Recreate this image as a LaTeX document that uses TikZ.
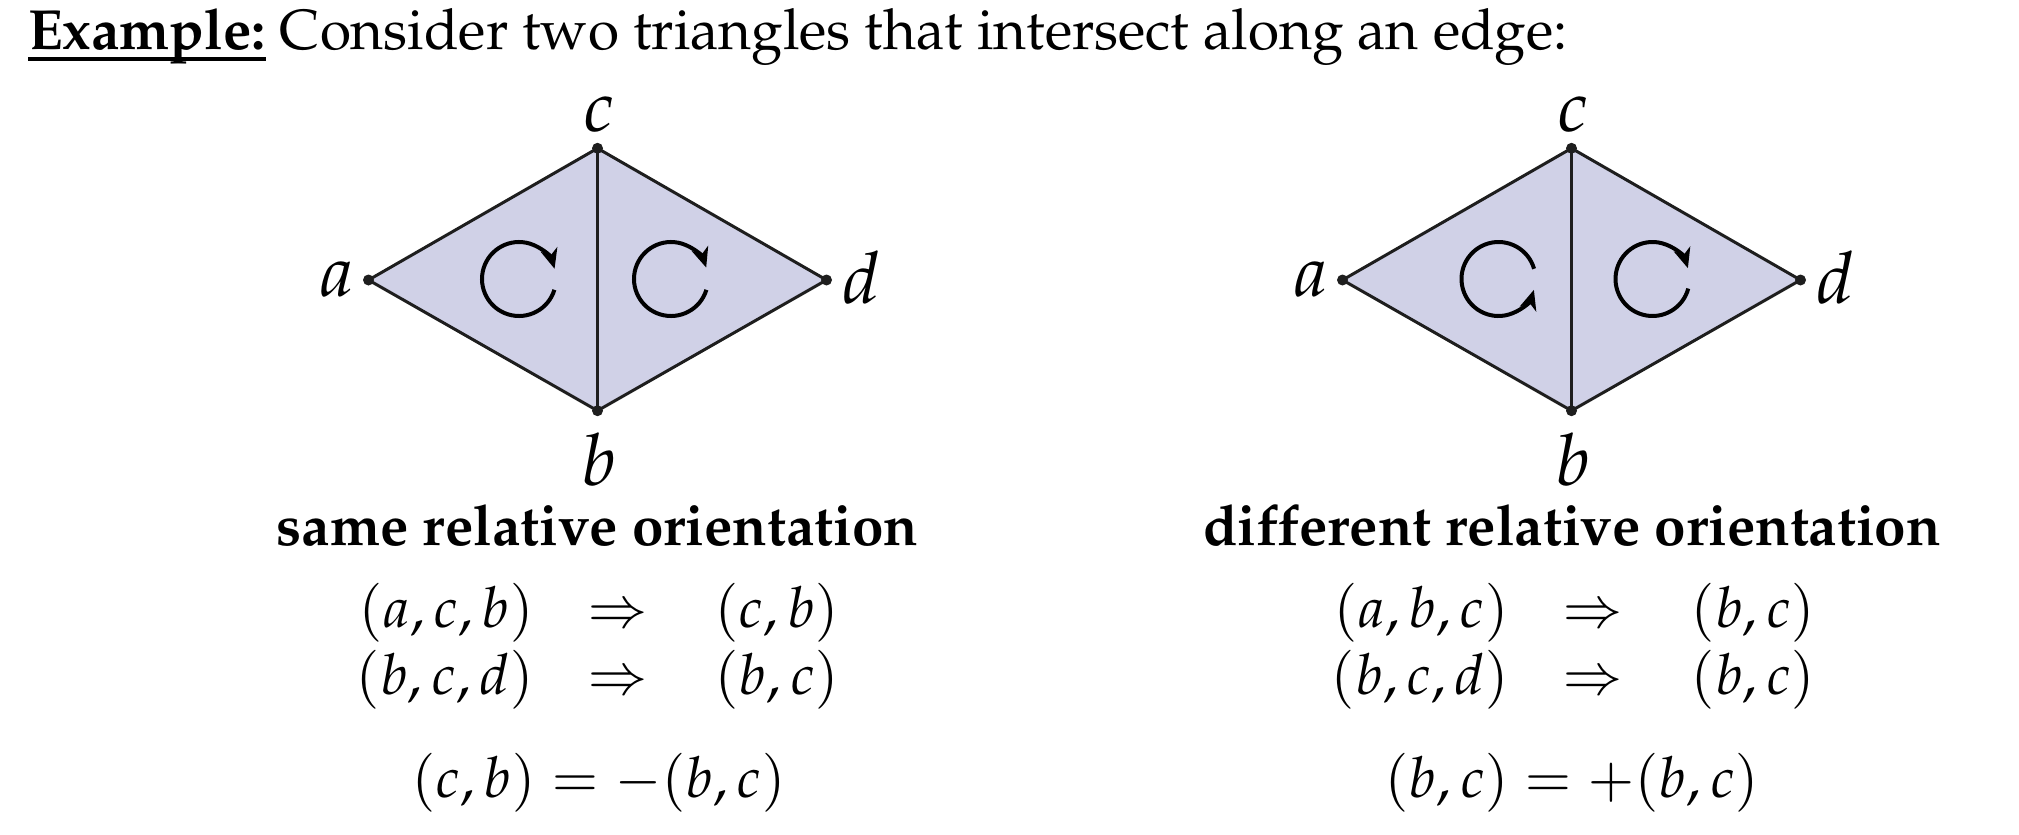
\documentclass[tikz,border=0pt]{standalone}
\usepackage[T1]{fontenc}
\usepackage{mathpazo}
\usetikzlibrary{arrows.meta,backgrounds}
\definecolor{tri}{RGB}{208,209,231}
\definecolor{ink}{RGB}{30,30,30}
\newcommand\thickul[1]{\setbox0\hbox{#1}\rlap{\rule[-0.22em]{\wd0}{0.075em}}\box0}
\begin{document}
\begin{tikzpicture}[x=0.5pt,y=-0.5pt,
  vtx/.style={circle,fill=ink,inner sep=0pt,minimum size=5.5pt},
  edgeline/.style={line width=1.5pt,draw=ink,line join=round},
  orient/.style={line width=2pt,-{Stealth[length=10pt,width=8.5pt,inset=3pt]}},
  lbl/.style={font=\fontsize{36}{40}\selectfont,inner sep=0pt},
  head/.style={font=\fontsize{28.3}{32}\selectfont\bfseries,anchor=base,inner sep=0pt},
  eq/.style={font=\fontsize{28.3}{34}\selectfont,inner sep=0pt},
  titletext/.style={font=\fontsize{28.3}{32}\selectfont,anchor=base west,inner sep=0pt}]
\useasboundingbox (0,0) rectangle (2019,835);

\node[titletext] (title) at (28,49) {\thickul{\textbf{Example:}}\ Consider two triangles that intersect along an edge:};

% left diamond
\node[vtx] (La) at (368.5,280) {};
\node[vtx] (Lc) at (597.5,148.3) {};
\node[vtx] (Lb) at (597.5,410.7) {};
\node[vtx] (Ld) at (826.5,280) {};
% right diamond
\node[vtx] (Ra) at (1342.5,280) {};
\node[vtx] (Rc) at (1571.5,148.3) {};
\node[vtx] (Rb) at (1571.5,410.7) {};
\node[vtx] (Rd) at (1800.5,280) {};

\begin{scope}[on background layer]
\fill[tri] (La.center) -- (Lc.center) -- (Ld.center) -- (Lb.center) -- cycle;
\fill[tri] (Ra.center) -- (Rc.center) -- (Rd.center) -- (Rb.center) -- cycle;
\draw[edgeline] (La.center) -- (Lc.center) -- (Ld.center) -- (Lb.center) -- cycle;
\draw[edgeline] (Lc.center) -- (Lb.center);
\draw[edgeline] (Ra.center) -- (Rc.center) -- (Rd.center) -- (Rb.center) -- cycle;
\draw[edgeline] (Rc.center) -- (Rb.center);
\end{scope}

% labels
\node[lbl] (laL) at (337,279) {$a$};
\node[lbl] (lcL) at (599.5,114) {$c$};
\node[lbl] (lbL) at (599.5,460) {$b$};
\node[lbl] (ldL) at (861,278) {$d$};
\node[lbl] (laR) at (1311,279) {$a$};
\node[lbl] (lcR) at (1573.5,114) {$c$};
\node[lbl] (lbR) at (1573.5,460) {$b$};
\node[lbl] (ldR) at (1835,278) {$d$};

% orientation circles
\coordinate (o1) at (519,279);
\coordinate (o2) at (671,279);
\coordinate (o3) at (1498.5,279);
\coordinate (o4) at (1652.5,279);
\draw[orient] ([shift={(-17:18.5pt)}]o1) arc[start angle=-17,end angle=-344,radius=18.5pt];
\draw[orient] ([shift={(-17:18.5pt)}]o2) arc[start angle=-17,end angle=-342,radius=18.5pt];
\draw[orient] ([shift={(16:18.5pt)}]o3) arc[start angle=16,end angle=343,radius=18.5pt];
\draw[orient] ([shift={(-15:18.5pt)}]o4) arc[start angle=-15,end angle=-343,radius=18.5pt];

% headings
\node[head] (hL) at (597.5,545) {same relative orientation};
\node[head] (hR) at (1572,545) {different relative orientation};

% equations left
\node[eq,anchor=base east] (l11) at (534,627) {$(a,c,b)$};
\node[eq,anchor=base] (l12) at (618,627) {$\Rightarrow$};
\node[eq,anchor=base west] (l13) at (714.6,627) {$(c,b)$};
\node[eq,anchor=base east] (l21) at (534,694) {$(b,c,d)$};
\node[eq,anchor=base] (l22) at (618,694) {$\Rightarrow$};
\node[eq,anchor=base west] (l23) at (714.6,694) {$(b,c)$};
\node[eq,anchor=base] (l3) at (598.7,797) {$(c,b)=-(b,c)$};
% equations right
\node[eq,anchor=base east] (r11) at (1509,627) {$(a,b,c)$};
\node[eq,anchor=base] (r12) at (1593,627) {$\Rightarrow$};
\node[eq,anchor=base west] (r13) at (1690.6,627) {$(b,c)$};
\node[eq,anchor=base east] (r21) at (1509,694) {$(b,c,d)$};
\node[eq,anchor=base] (r22) at (1593,694) {$\Rightarrow$};
\node[eq,anchor=base west] (r23) at (1690.6,694) {$(b,c)$};
\node[eq,anchor=base] (r3) at (1572,797) {$(b,c)=+(b,c)$};
\end{tikzpicture}
\end{document}
